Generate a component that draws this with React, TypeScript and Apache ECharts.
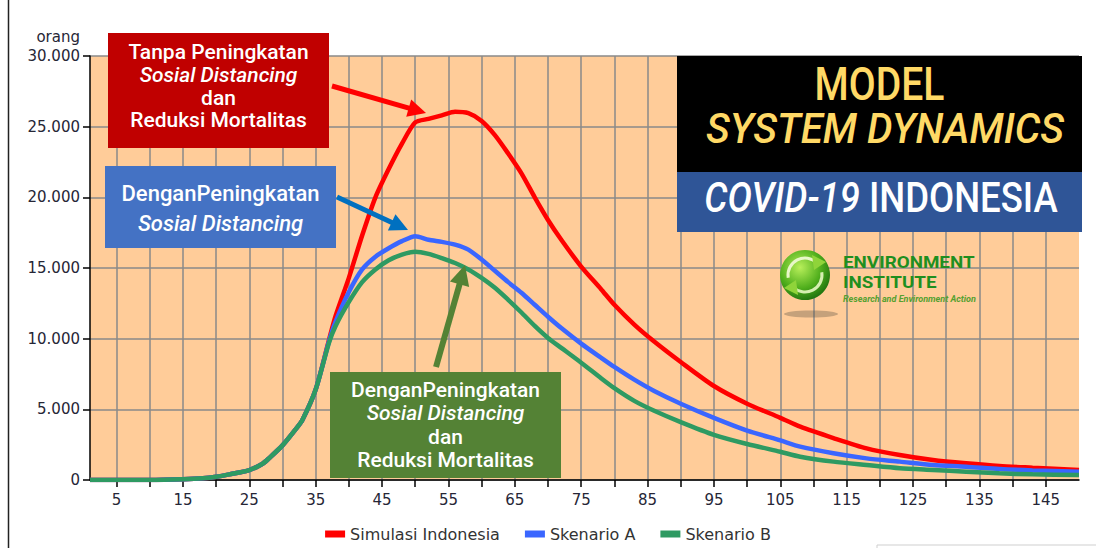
import React, { useEffect, useRef } from 'react';
import * as echarts from 'echarts';

// ---- data ----
const days = [1, 10, 15, 18, 20, 22, 25, 27, 28, 30, 32, 33, 35, 37, 38, 40, 42, 44, 46, 48, 50, 52, 54, 56, 58, 60, 62, 64, 66, 68, 70, 72, 75, 78, 80, 83, 86, 90, 95, 100, 105, 108, 113, 118, 123, 128, 133, 138, 143, 150];

const simulasiIndonesia = [0, 0, 50, 120, 230, 400, 700, 1150, 1550, 2450, 3600, 4250, 6400, 9900, 11600, 14300, 17300, 20000, 22000, 23800, 25300, 25550, 25800, 26050, 25950, 25400, 24400, 23100, 21700, 20000, 18400, 17000, 15100, 13500, 12400, 11000, 9800, 8350, 6650, 5400, 4400, 3770, 2970, 2240, 1770, 1415, 1180, 990, 870, 710];

const skenarioA = [0, 0, 50, 120, 230, 400, 700, 1150, 1550, 2450, 3600, 4250, 6400, 9800, 11200, 13300, 14900, 15800, 16400, 16900, 17250, 17000, 16850, 16650, 16300, 15600, 14800, 14000, 13250, 12400, 11550, 10750, 9650, 8650, 8000, 7100, 6300, 5400, 4400, 3500, 2800, 2360, 1890, 1530, 1300, 1060, 940, 780, 680, 590];

const skenarioB = [0, 0, 50, 120, 230, 400, 700, 1150, 1550, 2450, 3600, 4250, 6400, 9700, 10900, 12600, 14000, 14900, 15550, 15950, 16150, 16000, 15700, 15350, 14900, 14300, 13600, 12750, 11850, 10900, 10050, 9350, 8300, 7200, 6500, 5600, 4900, 4100, 3200, 2550, 2000, 1650, 1300, 1060, 830, 710, 590, 470, 400, 350];

const seriesNames = ['Simulasi Indonesia', 'Skenario A', 'Skenario B'];
const xLabelValues = [5, 15, 25, 35, 45, 55, 65, 75, 85, 95, 105, 115, 125, 135, 145];
const xTickValues = [5, 10, 15, 20, 25, 30, 35, 40, 45, 50, 55, 60, 65, 70, 75, 80, 85, 90, 95, 100, 105, 110, 115, 120, 125, 130, 135, 140, 145];
const yMax = 30000;
const yStep = 5000;

const fmt = (v: number) => String(v).replace(/\B(?=(\d{3})+(?!\d))/g, '.');

function txt(x: number, y: number, text: string, size: number, color: string, opts: any = {}) {
  return {
    type: 'text',
    x,
    y,
    scaleX: opts.sx ?? 1,
    z: 110,
    style: {
      text,
      fill: color,
      fontSize: size,
      fontFamily: opts.ff ?? 'Roboto',
      fontWeight: opts.fw ?? 500,
      fontStyle: opts.it ? 'italic' : 'normal',
      align: opts.align ?? 'center',
      verticalAlign: 'middle',
      textAlign: opts.align ?? 'center',
      textVerticalAlign: 'middle',
      rich: opts.rich,
    },
  };
}

function arrow(x1: number, y1: number, x2: number, y2: number, color: string, w: number, hl: number, hw: number) {
  const dx = x2 - x1;
  const dy = y2 - y1;
  const L = Math.hypot(dx, dy);
  const ux = dx / L;
  const uy = dy / L;
  const bx = x2 - ux * hl;
  const by = y2 - uy * hl;
  const px = -uy;
  const py = ux;
  return [
    { type: 'line', z: 105, shape: { x1, y1, x2: bx + ux * 2, y2: by + uy * 2 }, style: { stroke: color, lineWidth: w } },
    {
      type: 'polygon',
      z: 105,
      shape: { points: [[x2, y2], [bx + px * hw, by + py * hw], [bx - px * hw, by - py * hw]] },
      style: { fill: color },
    },
  ];
}

export default function App() {
  const ref = useRef<HTMLDivElement>(null);
  useEffect(() => {
    if (!ref.current) return;
    const chart = echarts.init(ref.current, null, { renderer: 'svg' });
    const mk = (vals: number[]) => days.map((d, i) => [d, vals[i]]);
    const colors = ['#FF0000', '#3A66FF', '#2E9A62'];
    const axisText = { color: '#262636', fontFamily: 'DejaVu Sans', fontSize: 15 };

    const graphics: any[] = [
      // page frame line on the left
      { type: 'line', z: 100, shape: { x1: 8.5, y1: 0, x2: 8.5, y2: 548 }, style: { stroke: '#222', lineWidth: 1.5 } },
      { type: 'rect', z: 100, shape: { x: 877, y: 545, width: 240, height: 20 }, style: { fill: '#fff', stroke: '#cfcfcf', lineWidth: 1 } },
      // red annotation
      { type: 'rect', z: 100, shape: { x: 108, y: 33, width: 221, height: 115 }, style: { fill: '#C00000' } },
      txt(218.5, 52, 'Tanpa Peningkatan', 21, '#fff'),
      txt(218.5, 75, 'Sosial Distancing', 21, '#fff', { it: true }),
      txt(218.5, 98, 'dan', 21, '#fff'),
      txt(218.5, 120, 'Reduksi Mortalitas', 21, '#fff'),
      // blue annotation
      { type: 'rect', z: 100, shape: { x: 105, y: 166, width: 231, height: 82 }, style: { fill: '#4472C4' } },
      txt(220.5, 193, 'DenganPeningkatan', 22, '#fff'),
      txt(220.5, 223, 'Sosial Distancing', 22, '#fff', { it: true }),
      // green annotation
      { type: 'rect', z: 100, shape: { x: 330, y: 372, width: 231, height: 106 }, style: { fill: '#548235' } },
      txt(445.5, 390, 'DenganPeningkatan', 21, '#fff'),
      txt(445.5, 413, 'Sosial Distancing', 21, '#fff', { it: true }),
      txt(445.5, 437, 'dan', 21, '#fff'),
      txt(445.5, 460, 'Reduksi Mortalitas', 21, '#fff'),
      // arrows
      ...arrow(332, 86, 426, 113, '#FF0000', 5, 18, 9),
      ...arrow(337, 197, 408, 230, '#0070C0', 5, 18, 9),
      ...arrow(436, 367, 465, 265, '#548235', 6, 20, 10),
      // title block
      { type: 'rect', z: 100, shape: { x: 677, y: 56, width: 405, height: 116 }, style: { fill: '#000' } },
      { type: 'rect', z: 100, shape: { x: 677, y: 172, width: 405, height: 60 }, style: { fill: '#2F5597' } },
      txt(879.5, 84, 'MODEL', 46, '#FFD966', { sx: 0.85 }),
      txt(885, 129, 'SYSTEM DYNAMICS', 42, '#FFD966', { it: true, sx: 0.96 }),
      txt(881, 198, '{i|COVID-19} {n|INDONESIA}', 42, '#fff', {
        sx: 0.87,
        rich: {
          i: { fontStyle: 'italic', fontSize: 42, fontFamily: 'Roboto', fontWeight: 500, fill: '#fff' },
          n: { fontStyle: 'normal', fontSize: 42, fontFamily: 'Roboto', fontWeight: 500, fill: '#fff' },
        },
      }),
      // logo
      { type: 'ellipse', z: 100, shape: { cx: 811, cy: 314, rx: 27, ry: 3.5 }, style: { fill: 'rgba(90,80,70,0.35)' } },
      {
        type: 'circle', z: 101, shape: { cx: 805, cy: 275, r: 25 },
        style: {
          fill: new echarts.graphic.RadialGradient(0.4, 0.35, 0.7, [
            { offset: 0, color: '#b8ef5a' },
            { offset: 0.6, color: '#4fae1c' },
            { offset: 1, color: '#1c6e0e' },
          ]),
        },
      },
      { type: 'arc', z: 102, shape: { cx: 805, cy: 275, r: 17, startAngle: Math.PI * 0.95, endAngle: Math.PI * 1.75 }, style: { stroke: '#e8f7c8', lineWidth: 3, fill: 'none' } },
      { type: 'arc', z: 102, shape: { cx: 805, cy: 275, r: 17, startAngle: Math.PI * 1.95, endAngle: Math.PI * 0.75 }, style: { stroke: '#d5efb0', lineWidth: 3, fill: 'none' } },
      { type: 'polygon', z: 102, shape: { points: [[812, 255], [826, 262], [814, 270]] }, style: { fill: '#8fd43a' } },
      { type: 'polygon', z: 102, shape: { points: [[798, 295], [784, 288], [796, 280]] }, style: { fill: '#8fd43a' } },
      txt(843, 262, 'ENVIRONMENT', 16.5, '#1f8f1f', { fw: 'bold', align: 'left', sx: 1.14 }),
      txt(843, 282, 'INSTITUTE', 16.5, '#1f8f1f', { fw: 'bold', align: 'left', sx: 1.14 }),
      txt(843, 298.5, 'Research and Environment Action', 9, '#55a030', { fw: 'bold', it: true, align: 'left' }),
    ];

    chart.setOption({
      animation: false,
      color: colors,
      grid: {
        left: 90,
        right: 17,
        top: 56,
        bottom: 68,
        show: true,
        backgroundColor: '#FFCC99',
        borderWidth: 0,
      },
      legend: {
        data: seriesNames,
        left: 'center',
        top: 521,
        icon: 'rect',
        itemWidth: 20,
        itemHeight: 7,
        itemGap: 25,
        textStyle: { color: '#333', fontFamily: 'DejaVu Sans', fontSize: 16 },
      },
      xAxis: {
        type: 'value',
        min: 1,
        max: 150,
        axisLine: { show: true, lineStyle: { color: '#000', width: 1.5 } },
        axisTick: { show: true, length: 7, customValues: xTickValues, lineStyle: { color: '#000', width: 1.5 } },
        axisLabel: { customValues: xLabelValues, margin: 12, ...axisText },
        splitLine: { show: true, lineStyle: { color: '#8a8a8a', width: 1.5 } },
      },
      yAxis: {
        type: 'value',
        min: 0,
        max: yMax,
        interval: yStep,
        name: 'orang',
        nameLocation: 'end',
        nameGap: 12,
        nameTextStyle: { ...axisText, align: 'right', padding: [0, 10, 0, 0] },
        axisLine: { show: true, lineStyle: { color: '#000', width: 1.5 } },
        axisTick: { show: true, length: 7, lineStyle: { color: '#000', width: 1.5 } },
        axisLabel: { margin: 10, formatter: (v: number) => fmt(v), ...axisText },
        splitLine: { show: true, lineStyle: { color: '#8a8a8a', width: 1.5 } },
      },
      series: [
        { name: seriesNames[0], type: 'line', data: mk(simulasiIndonesia), showSymbol: false, smooth: 0.25, lineStyle: { width: 4.5 }, z: 3 },
        { name: seriesNames[1], type: 'line', data: mk(skenarioA), showSymbol: false, smooth: 0.25, lineStyle: { width: 4.5 }, z: 4 },
        { name: seriesNames[2], type: 'line', data: mk(skenarioB), showSymbol: false, smooth: 0.25, lineStyle: { width: 4.5 }, z: 5 },
      ],
      graphic: { elements: graphics },
    });
    return () => chart.dispose();
  }, []);
  return <div ref={ref} style={{ position: 'absolute', left: 0, top: 0, width: 1096, height: 548 }} />;
}
